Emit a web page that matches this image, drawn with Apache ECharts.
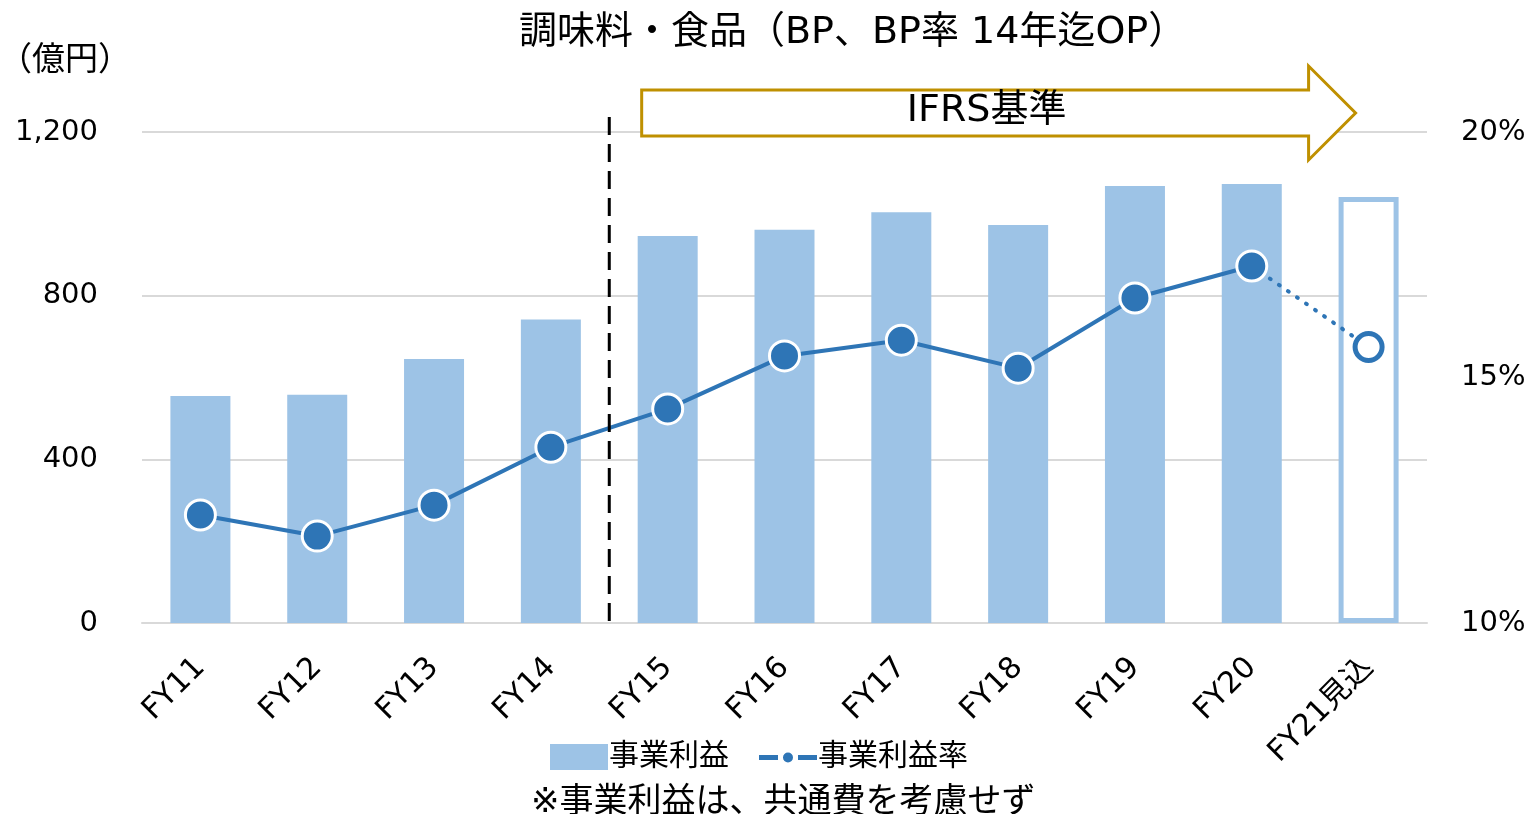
<!DOCTYPE html>
<html>
<head>
<meta charset="utf-8">
<script src="https://cdn.jsdelivr.net/npm/echarts@6/dist/echarts.min.js"></script>
<style>
  html, body { margin: 0; padding: 0; background: #fff; }
  #chart { width: 1532px; height: 814px; }
</style>
</head>
<body>
<div id="chart"></div>
<script>
// data
const categories = ['FY11', 'FY12', 'FY13', 'FY14', 'FY15', 'FY16', 'FY17', 'FY18', 'FY19', 'FY20', 'FY21見込'];
const profit = [555, 558, 645, 742, 946, 961, 1004, 973, 1068, 1073, 1041];   // 事業利益 (億円)
const margin = [12.2, 11.77, 12.4, 13.58, 14.36, 15.44, 15.76, 15.19, 16.62, 17.27]; // 事業利益率 actual
const marginForecast = 15.62;   // FY21見込
const leftTicks = [0, 1200, 400];
const rightTicks = [10, 20, 5];

// Latin in a Verdana-like face, kana/kanji fall back to Noto CJK
const FONT = '"DejaVu Sans", "Noto Sans CJK JP", sans-serif';
const barColor = '#9DC3E6';
const lineColor = '#2E75B6';

// legend icon: dash - dot - dash (the leading moves pin the box to 58x26)
const lineLegendIcon = 'path://M0,0M58,26M0,11h19v5h-19zM39,11h19v5h-19zM24,13.5a5,5 0 1,0 10,0a5,5 0 1,0 -10,0z';

const chart = echarts.init(document.getElementById('chart'));

// forecast bar is drawn as an outline only
const barData = profit.map((v, i) => {
    if (i === profit.length - 1) {
        return { value: v, itemStyle: { color: '#fff', borderColor: barColor, borderWidth: 5 } };
    }
    return v;
});

// dotted segment FY20 -> FY21見込
const dottedData = categories.map((c, i) => {
    if (i === margin.length - 1) return { value: margin[i], symbol: 'none' };
    if (i === categories.length - 1) return marginForecast;
    return null;
});

const option = {
    animation: false,
    textStyle: { fontFamily: FONT },
    title: [
        {
            text: '調味料・食品（BP、BP率 14年迄OP）',
            left: 514, top: 9,
            textStyle: { fontSize: 38, fontWeight: 'normal', color: '#000', fontFamily: FONT }
        },
        {
            text: '（億円）',
            left: -6, top: 40,
            textStyle: { fontSize: 33, fontWeight: 'normal', color: '#000', fontFamily: FONT }
        },
        {
            text: '※事業利益は、共通費を考慮せず',
            left: 526, top: 781,
            textStyle: { fontSize: 34, fontWeight: 'normal', color: '#000', fontFamily: FONT }
        }
    ],
    legend: {
        left: 545, top: 737,
        itemWidth: 58, itemHeight: 26, itemGap: 30,
        textStyle: { fontSize: 30, color: '#000', fontFamily: FONT, padding: [0, 0, 0, -4] },
        data: [
            { name: '事業利益', icon: 'rect' },
            {
                name: '事業利益率',
                icon: lineLegendIcon,
                itemStyle: { color: lineColor, borderWidth: 0 }
            }
        ]
    },
    grid: { left: 142, right: 105, top: 132, bottom: 191 },
    xAxis: [
        {
            type: 'category',
            data: categories,
            axisLine: { lineStyle: { color: '#D9D9D9', width: 2 } },
            axisTick: { show: false },
            axisLabel: {
                rotate: 45, margin: 40, interval: 0,
                fontSize: 30, color: '#000', fontFamily: FONT
            }
        }
    ],
    yAxis: [
        {
            type: 'value',
            min: leftTicks[0], max: leftTicks[1], interval: leftTicks[2],
            axisLine: { show: false },
            axisTick: { show: false },
            splitLine: { lineStyle: { color: '#D9D9D9', width: 2 } },
            axisLabel: {
                margin: 44, fontSize: 29, color: '#000', fontFamily: FONT,
                formatter: v => v.toLocaleString('en-US')
            }
        },
        {
            type: 'value',
            min: rightTicks[0], max: rightTicks[1], interval: rightTicks[2],
            axisLine: { show: false },
            axisTick: { show: false },
            splitLine: { show: false },
            axisLabel: {
                margin: 34, fontSize: 29, color: '#000', fontFamily: FONT,
                formatter: '{value}%'
            }
        }
    ],
    series: [
        {
            name: '事業利益',
            type: 'bar',
            data: barData,
            barWidth: 60,
            itemStyle: { color: barColor },
            z: 2
        },
        {
            name: '事業利益率',
            type: 'line',
            yAxisIndex: 1,
            data: margin,
            symbol: 'circle',
            symbolSize: 30,
            lineStyle: { color: lineColor, width: 4 },
            itemStyle: { color: lineColor, borderColor: '#fff', borderWidth: 3 },
            z: 4
        },
        {
            name: '事業利益率',
            type: 'line',
            yAxisIndex: 1,
            data: dottedData,
            symbol: 'circle',
            symbolSize: 27,
            showAllSymbol: true,
            connectNulls: false,
            lineStyle: { color: lineColor, width: 4, type: [1, 10], cap: 'round' },
            itemStyle: { color: '#fff', borderColor: lineColor, borderWidth: 5 },
            z: 3
        }
    ]
};

chart.setOption(option);

// annotations: boundary between FY14 and FY15, and the IFRS arrow
const x14 = chart.convertToPixel({ xAxisIndex: 0 }, 'FY14');
const x15 = chart.convertToPixel({ xAxisIndex: 0 }, 'FY15');
const x21 = chart.convertToPixel({ xAxisIndex: 0 }, categories[categories.length - 1]);
const yBase = chart.convertToPixel({ yAxisIndex: 0 }, 0);
const yTop = chart.convertToPixel({ yAxisIndex: 0 }, leftTicks[1]);
const xDiv = (x14 + x15) / 2;

const ax0 = x15 - 26, ax1 = x21 - 13, headW = 47;
const ay = yTop - 19;   // arrow centre line
chart.setOption({
    graphic: [
        {
            type: 'line',
            shape: { x1: xDiv, y1: yTop - 15, x2: xDiv, y2: yBase },
            style: { stroke: '#000', lineWidth: 3, lineDash: [18, 9] },
            z: 10
        },
        {
            type: 'polygon',
            shape: {
                points: [
                    [ax0, ay - 23], [ax1 - headW, ay - 23], [ax1 - headW, ay - 47],
                    [ax1, ay], [ax1 - headW, ay + 47], [ax1 - headW, ay + 23], [ax0, ay + 23]
                ]
            },
            style: { fill: '#fff', stroke: '#BF9000', lineWidth: 3 },
            z: 10
        },
        {
            type: 'text',
            x: (ax0 + ax1) / 2 - 12, y: ay - 2,
            style: {
                text: 'IFRS基準', fill: '#000', font: '38px ' + FONT,
                align: 'center', verticalAlign: 'middle'
            },
            z: 11
        }
    ]
});
</script>
</body>
</html>
